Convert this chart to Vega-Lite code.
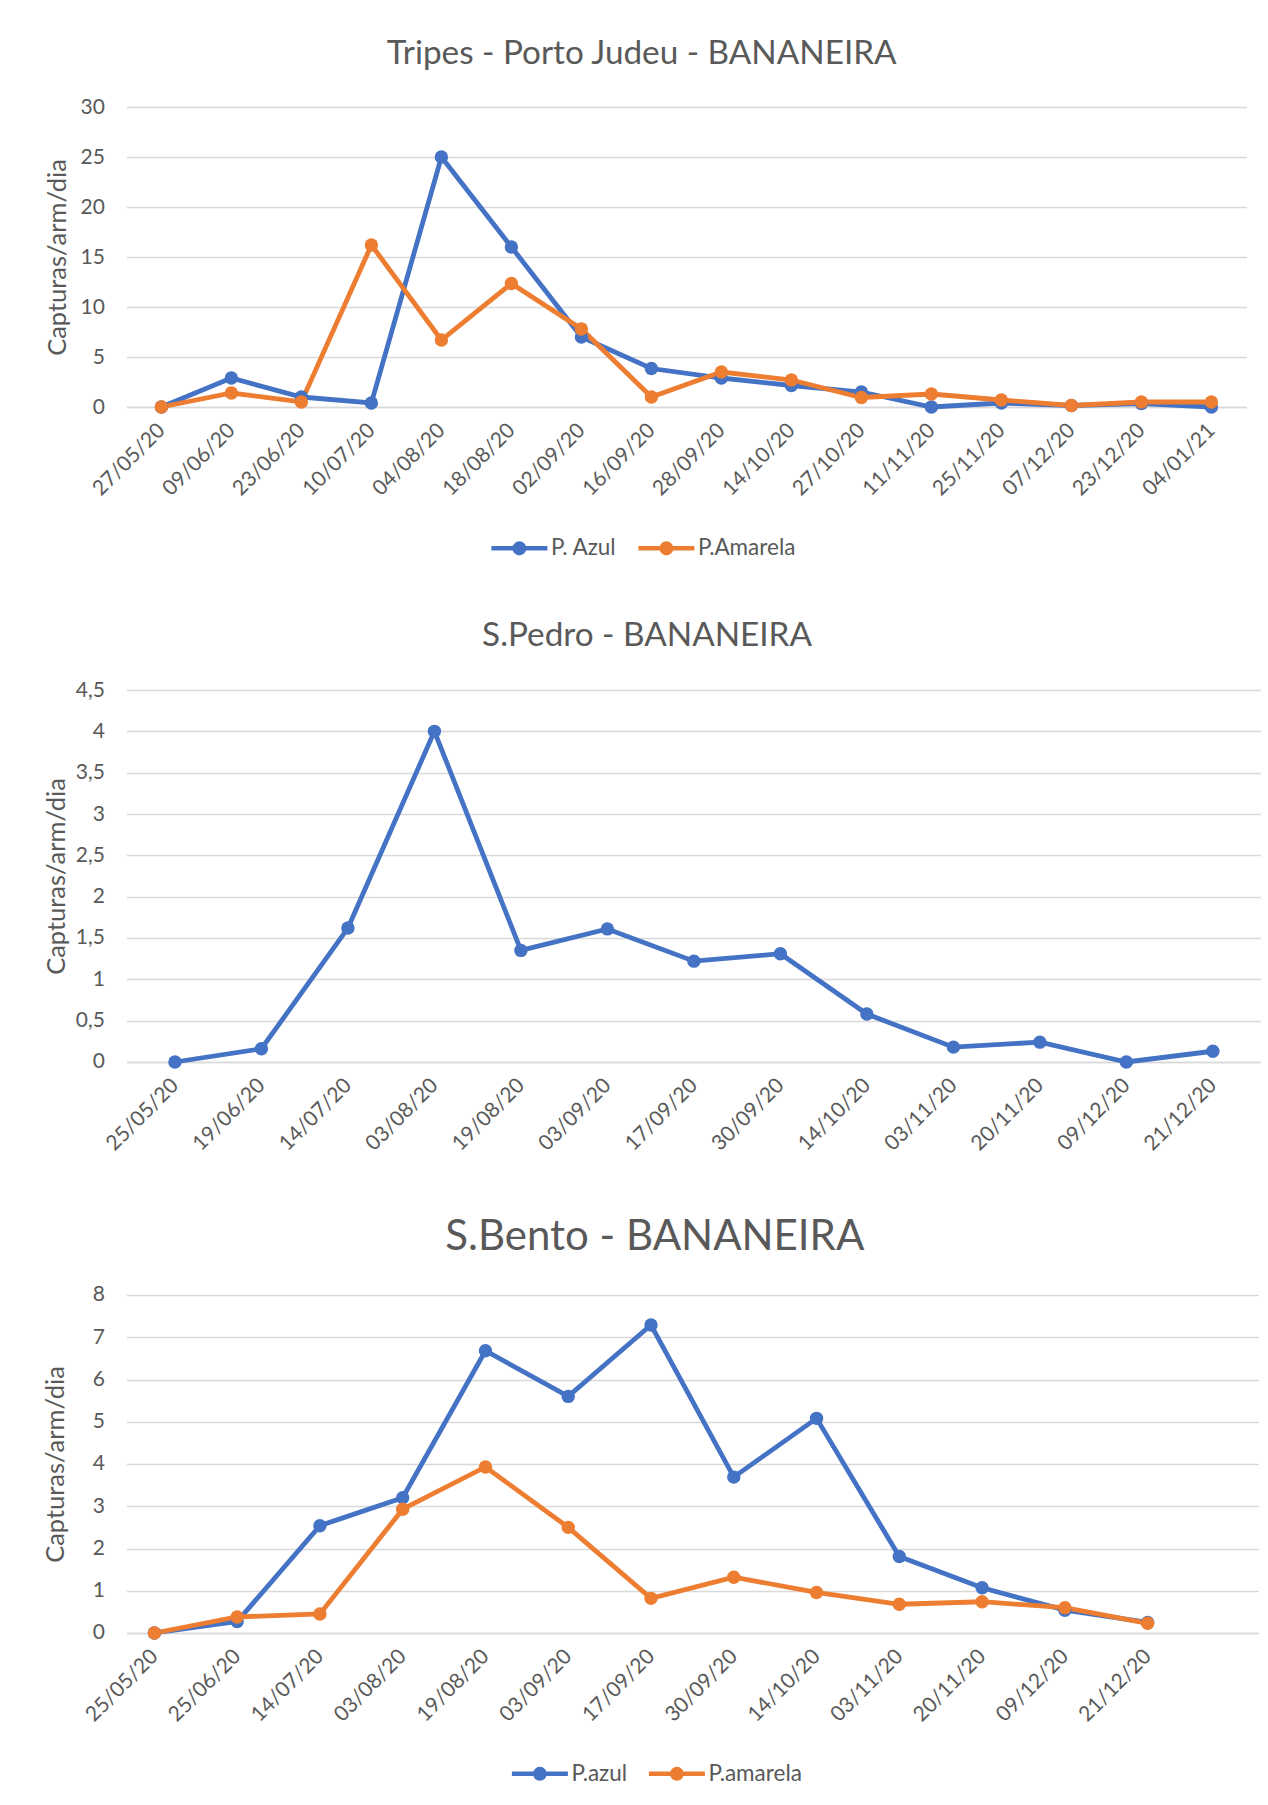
{
  "$schema": "https://vega.github.io/schema/vega-lite/v6.json",
  "background": "white",
  "padding": {"left": 42.4, "top": 37, "right": 0, "bottom": 0},
  "config": {
    "font": "Lato",
    "view": {"stroke": null},
    "title": {"font": "Lato", "fontWeight": "normal", "color": "#595959", "anchor": "middle", "frame": "bounds"},
    "axis": {
      "labelFont": "Lato", "labelColor": "#595959", "labelFontSize": 21,
      "titleFont": "Lato", "titleColor": "#595959", "titleFontWeight": "normal", "titleFontSize": 25.5,
      "ticks": false, "gridColor": "#d9d9d9", "gridWidth": 1.6, "domainColor": "#d9d9d9", "domainWidth": 1.6
    },
    "legend": {"labelFont": "Lato", "labelColor": "#595959", "labelFontSize": 22.5}
  },
  "datasets": {
    "p1": [
      {"data": "27/05/20", "serie": "P. Azul", "valor": 0},
      {"data": "09/06/20", "serie": "P. Azul", "valor": 2.9},
      {"data": "23/06/20", "serie": "P. Azul", "valor": 1.0},
      {"data": "10/07/20", "serie": "P. Azul", "valor": 0.4},
      {"data": "04/08/20", "serie": "P. Azul", "valor": 25.0},
      {"data": "18/08/20", "serie": "P. Azul", "valor": 16.0},
      {"data": "02/09/20", "serie": "P. Azul", "valor": 7.0},
      {"data": "16/09/20", "serie": "P. Azul", "valor": 3.85},
      {"data": "28/09/20", "serie": "P. Azul", "valor": 2.9},
      {"data": "14/10/20", "serie": "P. Azul", "valor": 2.15},
      {"data": "27/10/20", "serie": "P. Azul", "valor": 1.5},
      {"data": "11/11/20", "serie": "P. Azul", "valor": 0},
      {"data": "25/11/20", "serie": "P. Azul", "valor": 0.4},
      {"data": "07/12/20", "serie": "P. Azul", "valor": 0.15},
      {"data": "23/12/20", "serie": "P. Azul", "valor": 0.35},
      {"data": "04/01/21", "serie": "P. Azul", "valor": 0},
      {"data": "27/05/20", "serie": "P.Amarela", "valor": 0},
      {"data": "09/06/20", "serie": "P.Amarela", "valor": 1.4},
      {"data": "23/06/20", "serie": "P.Amarela", "valor": 0.5},
      {"data": "10/07/20", "serie": "P.Amarela", "valor": 16.2},
      {"data": "04/08/20", "serie": "P.Amarela", "valor": 6.7},
      {"data": "18/08/20", "serie": "P.Amarela", "valor": 12.35},
      {"data": "02/09/20", "serie": "P.Amarela", "valor": 7.8},
      {"data": "16/09/20", "serie": "P.Amarela", "valor": 1.0},
      {"data": "28/09/20", "serie": "P.Amarela", "valor": 3.5},
      {"data": "14/10/20", "serie": "P.Amarela", "valor": 2.7},
      {"data": "27/10/20", "serie": "P.Amarela", "valor": 0.95},
      {"data": "11/11/20", "serie": "P.Amarela", "valor": 1.3},
      {"data": "25/11/20", "serie": "P.Amarela", "valor": 0.7},
      {"data": "07/12/20", "serie": "P.Amarela", "valor": 0.15},
      {"data": "23/12/20", "serie": "P.Amarela", "valor": 0.5},
      {"data": "04/01/21", "serie": "P.Amarela", "valor": 0.5}
    ],
    "p2": [
      {"data": "25/05/20", "valor": 0},
      {"data": "19/06/20", "valor": 0.16},
      {"data": "14/07/20", "valor": 1.62},
      {"data": "03/08/20", "valor": 4.0},
      {"data": "19/08/20", "valor": 1.35},
      {"data": "03/09/20", "valor": 1.61},
      {"data": "17/09/20", "valor": 1.22},
      {"data": "30/09/20", "valor": 1.31},
      {"data": "14/10/20", "valor": 0.58},
      {"data": "03/11/20", "valor": 0.18},
      {"data": "20/11/20", "valor": 0.24},
      {"data": "09/12/20", "valor": 0},
      {"data": "21/12/20", "valor": 0.13}
    ],
    "p3": [
      {"data": "25/05/20", "serie": "P.azul", "valor": 0},
      {"data": "25/06/20", "serie": "P.azul", "valor": 0.27},
      {"data": "14/07/20", "serie": "P.azul", "valor": 2.54},
      {"data": "03/08/20", "serie": "P.azul", "valor": 3.2},
      {"data": "19/08/20", "serie": "P.azul", "valor": 6.68},
      {"data": "03/09/20", "serie": "P.azul", "valor": 5.6},
      {"data": "17/09/20", "serie": "P.azul", "valor": 7.29},
      {"data": "30/09/20", "serie": "P.azul", "valor": 3.69},
      {"data": "14/10/20", "serie": "P.azul", "valor": 5.08},
      {"data": "03/11/20", "serie": "P.azul", "valor": 1.81},
      {"data": "20/11/20", "serie": "P.azul", "valor": 1.07},
      {"data": "09/12/20", "serie": "P.azul", "valor": 0.54},
      {"data": "21/12/20", "serie": "P.azul", "valor": 0.25},
      {"data": "25/05/20", "serie": "P.amarela", "valor": 0},
      {"data": "25/06/20", "serie": "P.amarela", "valor": 0.38},
      {"data": "14/07/20", "serie": "P.amarela", "valor": 0.45},
      {"data": "03/08/20", "serie": "P.amarela", "valor": 2.93},
      {"data": "19/08/20", "serie": "P.amarela", "valor": 3.93},
      {"data": "03/09/20", "serie": "P.amarela", "valor": 2.5},
      {"data": "17/09/20", "serie": "P.amarela", "valor": 0.82},
      {"data": "30/09/20", "serie": "P.amarela", "valor": 1.32},
      {"data": "14/10/20", "serie": "P.amarela", "valor": 0.96},
      {"data": "03/11/20", "serie": "P.amarela", "valor": 0.68},
      {"data": "20/11/20", "serie": "P.amarela", "valor": 0.74},
      {"data": "09/12/20", "serie": "P.amarela", "valor": 0.6},
      {"data": "21/12/20", "serie": "P.amarela", "valor": 0.23}
    ]
  },
  "columns": 1,
  "align": "none",
  "spacing": 61,
  "resolve": {"scale": {"color": "independent"}, "legend": {"color": "independent"}},
  "concat": [
    {
      "columns": 1,
      "align": "none",
      "spacing": 56,
      "resolve": {"scale": {"color": "independent"}, "legend": {"color": "independent"}},
      "concat": [
        {
          "title": {"text": "Tripes - Porto Judeu - BANANEIRA", "fontSize": 33.3, "offset": 24.5, "dx": -4},
          "width": 1120,
          "height": 300,
          "data": {"name": "p1"},
          "encoding": {
            "x": {"field": "data", "type": "nominal", "sort": null,
              "scale": {"type": "point", "padding": 0.5},
              "axis": {"title": null, "labelAngle": -45, "labelAlign": "right", "labelBaseline": "middle", "labelPadding": 20, "domain": true, "grid": false}},
            "y": {"field": "valor", "type": "quantitative",
              "scale": {"domain": [0, 30]},
              "axis": {"title": "Capturas/arm/dia", "values": [0, 5, 10, 15, 20, 25, 30], "domain": false, "labelPadding": 22, "titlePadding": 10}},
            "color": {"field": "serie", "type": "nominal",
              "scale": {"domain": ["P. Azul", "P.Amarela"], "range": ["#4472C4", "#ED7D31"]},
              "legend": {"title": null, "orient": "none", "direction": "horizontal", "legendX": 362.5, "legendY": 410.5,
                "symbolType": "M-1,0L1,0M0.17,0A0.17,0.17,0,1,1,-0.17,0A0.17,0.17,0,1,1,0.17,0",
                "symbolSize": 3136, "symbolStrokeWidth": 4.5, "labelOffset": 1, "columnPadding": 12,
                "encode": {"symbols": {"update": {"fill": {"signal": "datum.value == 'P. Azul' ? '#4472C4' : '#ED7D31'"}, "stroke": {"signal": "datum.value == 'P. Azul' ? '#4472C4' : '#ED7D31'"}, "opacity": {"value": 1}}}}}}
          },
          "layer": [
            {"mark": {"type": "line", "strokeWidth": 4.8}},
            {"mark": {"type": "circle", "size": 180, "opacity": 1}}
          ]
        },
        {
          "title": {"text": "S.Pedro - BANANEIRA", "fontSize": 33.3, "offset": 25.7, "dx": -6},
          "width": 1135,
          "height": 372,
          "data": {"name": "p2"},
          "encoding": {
            "x": {"field": "data", "type": "nominal", "sort": null,
              "scale": {"type": "point", "padding": 0.561},
              "axis": {"title": null, "labelAngle": -45, "labelAlign": "right", "labelBaseline": "middle", "labelPadding": 20, "domain": true, "grid": false}},
            "y": {"field": "valor", "type": "quantitative",
              "scale": {"domain": [0, 4.5]},
              "axis": {"title": "Capturas/arm/dia", "values": [0, 0.5, 1, 1.5, 2, 2.5, 3, 3.5, 4, 4.5], "labelExpr": "replace(toString(datum.value), '.', ',')", "domain": false, "labelPadding": 22, "titlePadding": 5.6}}
          },
          "layer": [
            {"mark": {"type": "line", "strokeWidth": 4.8, "color": "#4472C4"}},
            {"mark": {"type": "circle", "size": 180, "opacity": 1, "color": "#4472C4"}}
          ]
        }
      ]
    },
    {
      "title": {"text": "S.Bento - BANANEIRA", "fontSize": 42, "offset": 25, "dx": 4},
      "width": 1132,
      "height": 338,
      "data": {"name": "p3"},
      "encoding": {
        "x": {"field": "data", "type": "nominal",
          "scale": {"type": "point", "padding": 0.338, "domain": ["25/05/20", "25/06/20", "14/07/20", "03/08/20", "19/08/20", "03/09/20", "17/09/20", "30/09/20", "14/10/20", "03/11/20", "20/11/20", "09/12/20", "21/12/20", " "]},
          "axis": {"title": null, "labelAngle": -45, "labelAlign": "right", "labelBaseline": "middle", "labelPadding": 20, "domain": true, "grid": false}},
        "y": {"field": "valor", "type": "quantitative",
          "scale": {"domain": [0, 8]},
          "axis": {"title": "Capturas/arm/dia", "values": [0, 1, 2, 3, 4, 5, 6, 7, 8], "domain": false, "labelPadding": 22, "titlePadding": 24}},
        "color": {"field": "serie", "type": "nominal",
          "scale": {"domain": ["P.azul", "P.amarela"], "range": ["#4472C4", "#ED7D31"]},
          "legend": {"title": null, "orient": "none", "direction": "horizontal", "legendX": 383, "legendY": 448,
            "symbolType": "M-1,0L1,0M0.17,0A0.17,0.17,0,1,1,-0.17,0A0.17,0.17,0,1,1,0.17,0",
            "symbolSize": 3136, "symbolStrokeWidth": 4.5, "labelOffset": 1, "columnPadding": 12,
            "encode": {"symbols": {"update": {"fill": {"signal": "datum.value == 'P.azul' ? '#4472C4' : '#ED7D31'"}, "stroke": {"signal": "datum.value == 'P.azul' ? '#4472C4' : '#ED7D31'"}, "opacity": {"value": 1}}}}}}
      },
      "layer": [
        {"mark": {"type": "line", "strokeWidth": 4.8}},
        {"mark": {"type": "circle", "size": 180, "opacity": 1}}
      ]
    }
  ]
}
